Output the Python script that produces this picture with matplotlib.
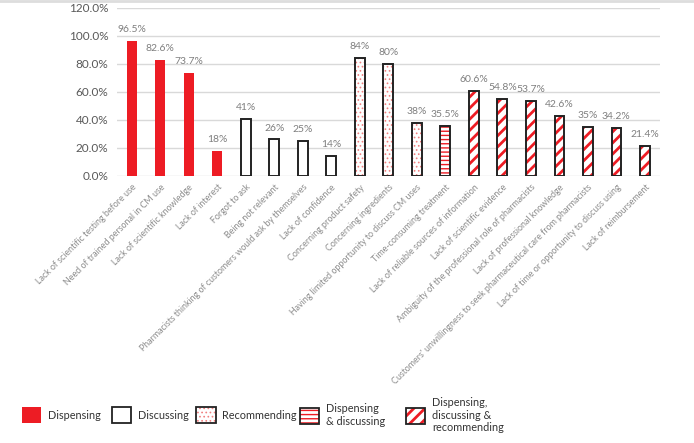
import numpy as np
import matplotlib.pyplot as plt
from matplotlib.patches import Patch
from matplotlib.lines import Line2D

plt.rcParams['font.family'] = ['Lato', 'DejaVu Sans']

labels = ['Lack of scientific testing before use',
          'Need of trained personal in CM use',
          'Lack of scientific knowledge',
          'Lack of interest',
          'Forgot to ask',
          'Being not relevant',
          'Pharmacists thinking of customers would ask by themselves',
          'Lack of confidence',
          'Concerning product safety',
          'Concerning ingredients',
          'Having limited opportunity to discuss CM uses',
          'Time-consuming treatment',
          'Lack of reliable sources of information',
          'Lack of scientific evidence',
          'Ambiguity of the professional role of pharmacists',
          'Lack of professional knowledge',
          "Customers' unwillingness to seek pharmaceutical care from pharmacists",
          'Lack of time or opportunity to discuss using',
          'Lack of reimbursement']
values = [96.5, 82.6, 73.7, 18, 41, 26, 25, 14, 84, 80, 38, 35.5,
          60.6, 54.8, 53.7, 42.6, 35, 34.2, 21.4]
value_text = ['96.5%', '82.6%', '73.7%', '18%', '41%', '26%', '25%', '14%',
              '84%', '80%', '38%', '35.5%', '60.6%', '54.8%', '53.7%',
              '42.6%', '35%', '34.2%', '21.4%']
# group of each bar
groups = ['disp'] * 4 + ['disc'] * 4 + ['rec'] * 3 + ['dd'] + ['ddr'] * 7
order = ['disp', 'disc', 'rec', 'dd', 'ddr']

red = '#ed1c24'
styles = {
    'disp': dict(face=red, hatch=None, hcol=None, hlw=0),
    'disc': dict(face='white', hatch=None, hcol=None, hlw=0),
    'rec': dict(face='white', hatch='....', hcol='#f08080', hlw=0.7),
    'dd': dict(face='white', hatch='----', hcol=red, hlw=1.0),
    'ddr': dict(face='white', hatch='///', hcol=red, hlw=2.0),
}
legend_names = {'disp': 'Dispensing', 'disc': 'Discussing', 'rec': 'Recommending',
                'dd': 'Dispensing\n& discussing',
                'ddr': 'Dispensing,\ndiscussing &\nrecommending'}
legend_x = [0.031, 0.161, 0.283, 0.432, 0.585]
edge = '#222222'

fig = plt.figure(figsize=(6.94, 4.43), dpi=100)
ax = fig.add_axes([0.168, 0.603, 0.783, 0.379])

x = np.arange(len(values))
w = 0.34
for i, (v, g) in enumerate(zip(values, groups)):
    s = styles[g]
    if s['hatch']:
        with plt.rc_context({'hatch.linewidth': s['hlw']}):
            ax.bar(x[i], v / 100, w, color='white', edgecolor=s['hcol'], hatch=s['hatch'],
                   linewidth=0, zorder=2)
        ax.bar(x[i], v / 100, w, fill=False, edgecolor=edge, linewidth=1.4, zorder=3)
    elif g == 'disc':
        ax.bar(x[i], v / 100, w, color='white', edgecolor=edge, linewidth=1.4, zorder=3)
    else:
        ax.bar(x[i], v / 100, w, color=red, linewidth=0, zorder=3)
    ax.annotate(value_text[i], (x[i], v / 100), xytext=(0, 5), textcoords='offset points',
                ha='center', va='bottom', fontsize=7.5, color='#7f7f7f')

ax.set_xlim(-0.53, len(values) - 0.47)
ax.set_ylim(0, 1.2)
ax.set_yticks(np.arange(0, 1.21, 0.2))
ax.set_yticklabels([f'{t:.1f}%' for t in np.arange(0, 121, 20)], fontsize=8.5, color='#595959')
ax.set_xticks(x)
ax.set_xticklabels(labels, rotation=45, ha='right', rotation_mode='anchor',
                   fontsize=6.4, color='#8c8c8c')
ax.tick_params(axis='y', length=0, pad=6)
ax.tick_params(axis='x', length=0, pad=5)
ax.yaxis.grid(True, color='#d9d9d9', linewidth=1)
ax.set_axisbelow(True)
for sp in ax.spines.values():
    sp.set_visible(False)

# legend: one small legend per item so they sit where the reference has them
for g, lx in zip(order, legend_x):
    s = styles[g]
    if s['hatch']:
        h = (Patch(facecolor='white', edgecolor=s['hcol'], hatch=s['hatch'], linewidth=0),
             Patch(fill=False, edgecolor=edge, linewidth=1.3))
    elif g == 'disc':
        h = Patch(facecolor='white', edgecolor=edge, linewidth=1.3)
    else:
        h = Patch(facecolor=red, linewidth=0)
    hlw = 2.0 if g == 'ddr' else s['hlw']
    with plt.rc_context({'hatch.linewidth': hlw}):
        fig.legend([h], [legend_names[g]], loc='center left',
                   bbox_to_anchor=(lx, 0.063), frameon=False, fontsize=7.8,
                   borderpad=0, borderaxespad=0, handlelength=1.8, handleheight=1.8,
                   handletextpad=0.6, labelcolor='#333333')

fig.add_artist(Line2D([0, 1], [0.997, 0.997], color='#dddddd', linewidth=2))

fig.savefig('out.png', dpi=100)
